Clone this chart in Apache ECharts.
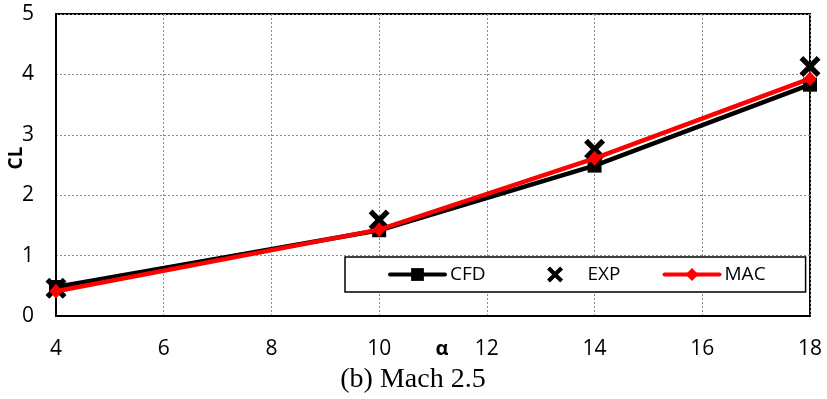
<!DOCTYPE html>
<html>
<head>
<meta charset="utf-8">
<script src="https://cdn.jsdelivr.net/npm/echarts@6/dist/echarts.min.js"></script>
<style>
  html, body { margin: 0; padding: 0; background: #fff; }
  #chart { width: 827px; height: 399px; }
</style>
</head>
<body>
<div id="chart"></div>
<script>
// Lift coefficient versus angle of attack at Mach 2.5
const alpha = [4, 10, 14, 18];
const cfd = [0.48, 1.42, 2.49, 3.83];
const exp = [0.46, 1.59, 2.76, 4.13];
const mac = [0.41, 1.43, 2.61, 3.93];

const xTicks = [4, 6, 8, 10, 12, 14, 16, 18];
const yTicks = [0, 1, 2, 3, 4, 5];

const pairs = (xs, ys) => xs.map((x, i) => [x, ys[i]]);

// thick "X" marker
const crossShape = 'M0,1.8 L1.8,0 L5,3.2 L8.2,0 L10,1.8 L6.8,5 L10,8.2 L8.2,10 L5,6.8 L1.8,10 L0,8.2 L3.2,5 Z';
const crossPath = 'path://' + crossShape;
// same marker padded with empty sub-paths so it sits centred in a wide legend slot
const crossLegendPath = 'path://M-12.2,5 L-12.2,5 Z M22.2,5 L22.2,5 Z ' + crossShape;

const font = '"Open Sans", "DejaVu Sans", sans-serif';

const chart = echarts.init(document.getElementById('chart'), null, { renderer: 'canvas' });

chart.setOption({
  animation: false,
  backgroundColor: '#fff',
  grid: {
    left: 56, right: 17, top: 14, bottom: 83,
    show: true, borderColor: '#000', borderWidth: 2,
    backgroundColor: 'transparent'
  },
  xAxis: {
    type: 'value',
    min: xTicks[0], max: xTicks[xTicks.length - 1], interval: 2,
    axisLine: { show: true, lineStyle: { color: '#000', width: 2 } },
    axisTick: { show: false },
    axisLabel: { color: '#000', fontFamily: font, fontSize: 21, margin: 23 },
    splitLine: { show: true, lineStyle: { color: '#8c8c8c', type: [2, 2], width: 1 } }
  },
  yAxis: {
    type: 'value',
    min: yTicks[0], max: yTicks[yTicks.length - 1], interval: 1,
    axisLine: { show: true, lineStyle: { color: '#000', width: 2 } },
    axisTick: { show: false },
    axisLabel: { color: '#000', fontFamily: font, fontSize: 21, margin: 22 },
    splitLine: { show: true, lineStyle: { color: '#8c8c8c', type: [2, 2], width: 1 } }
  },
  legend: {
    left: 345, top: 257,
    padding: [8, 40, 8, 43],
    itemGap: 42,
    itemWidth: 55, itemHeight: 16,
    backgroundColor: '#fff',
    borderColor: '#000', borderWidth: 1.5,
    lineStyle: { width: 4, cap: 'round' },
    textStyle: { color: '#000', fontFamily: font, fontSize: 19 },
    data: ['CFD', { name: 'EXP', icon: crossLegendPath }, 'MAC']
  },
  series: [
    {
      name: 'CFD', type: 'line',
      data: pairs(alpha, cfd),
      symbol: 'rect', symbolSize: 14,
      lineStyle: { color: '#000', width: 4.5 },
      itemStyle: { color: '#000' },
      z: 2
    },
    {
      name: 'EXP', type: 'scatter',
      data: pairs(alpha, exp),
      symbol: crossPath, symbolSize: 21,
      itemStyle: { color: '#000', opacity: 1 },
      z: 3
    },
    {
      name: 'MAC', type: 'line',
      data: pairs(alpha, mac),
      symbol: 'diamond', symbolSize: [13, 15],
      lineStyle: { color: '#ff0000', width: 4.5 },
      itemStyle: { color: '#ff0000' },
      z: 4
    }
  ],
  graphic: [
    {
      type: 'text', rotation: Math.PI / 2,
      x: 17, y: 158,
      style: { text: 'CL', fill: '#000', font: 'bold 19px ' + font, textAlign: 'center', textVerticalAlign: 'middle' }
    },
    {
      type: 'text',
      x: 442, y: 349,
      style: { text: 'α', fill: '#000', font: 'bold 20px ' + font, textAlign: 'center', textVerticalAlign: 'middle' }
    },
    {
      type: 'text',
      x: 413, y: 380,
      style: { text: '(b) Mach 2.5', fill: '#000', font: '28px "Liberation Serif", "Times New Roman", serif', textAlign: 'center', textVerticalAlign: 'middle' }
    }
  ]
});
</script>
</body>
</html>
